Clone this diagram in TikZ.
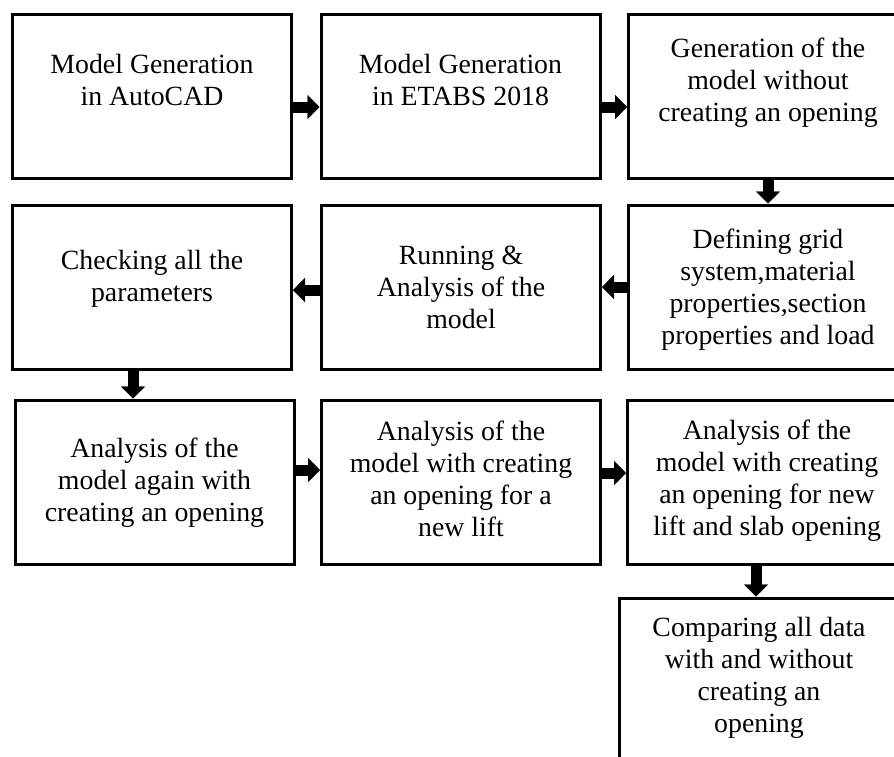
\documentclass[tikz,border=0pt]{standalone}
\usepackage{fontspec}
\setmainfont{Liberation Serif}
\usetikzlibrary{arrows.meta}

\begin{document}
\begin{tikzpicture}[x=1pt,y=-1pt,
      box/.style={draw,line width=3pt,minimum width=279pt,minimum height=164pt,inner sep=0pt},
      txt/.style={anchor=north,align=center,inner sep=0pt,font=\fontsize{27.8}{32}\selectfont},
      blk/.style={line width=11pt,-{Triangle[length=12pt,width=24pt,line width=0.4pt]}}]

   \clip (0,0) rectangle (894,756);
   \useasboundingbox (0,0) rectangle (894,756);

   % Boxes
      \node[box]  (b1)  at (152,96.5)    {};
      \node[box]  (b2)  at (460.5,96.5)  {};
      \node[box]  (b3)  at (768,96.5)    {};
      \node[box]  (b4)  at (152,287)     {};
      \node[box]  (b5)  at (461,287)     {};
      \node[box]  (b6)  at (768,287)     {};
      \node[box]  (b7)  at (154.5,482)   {};
      \node[box]  (b8)  at (461,482)     {};
      \node[box]  (b9)  at (767,482)     {};
      \node[box,minimum height=180pt]  (b10) at (759,688) {};

   % Texts
      \node[txt]  (t1)  at (152,54)   {Model Generation\\in AutoCAD};
      \node[txt]  (t2)  at (460.5,54) {Model Generation\\in ETABS 2018};
      \node[txt]  (t3)  at (768,38)   {Generation of the\\model without\\creating an opening};
      \node[txt]  (t4)  at (152,250)  {Checking all the\\parameters};
      \node[txt]  (t5)  at (461,246)  {Running \&\\Analysis of the\\model};
      \node[txt]  (t6)  at (768,229)  {Defining grid\\system,material\\properties,section\\properties and load};
      \node[txt]  (t7)  at (154.5,438) {Analysis of the\\model again with\\creating an opening};
      \node[txt]  (t8)  at (461,421)  {Analysis of the\\model with creating\\an opening for a\\new lift};
      \node[txt]  (t9)  at (767,420)  {Analysis of the\\model with creating\\an opening for new\\lift and slab opening};
      \node[txt]  (t10) at (759,617)  {Comparing all data\\with and without\\creating an\\opening};

   % Arrows
      \draw[blk] ([yshift=-10.5pt]b1.east) -- ([yshift=-10.5pt]b2.west);
      \draw[blk] ([yshift=-10.5pt]b2.east) -- ([yshift=-10.5pt]b3.west);
      \draw[blk] (b3.south) -- (b6.north);
      \draw[blk] (b6.west) -- (b5.east);
      \draw[blk] ([yshift=-3pt]b5.west) -- ([yshift=-3pt]b4.east);
      \draw[blk] ([xshift=-19pt]b4.south) -- ([xshift=-19pt]b4.south |- b7.north);
      \draw[blk] ([yshift=12pt]b7.east) -- ([yshift=12pt]b8.west);
      \draw[blk] ([yshift=9pt]b8.east) -- ([yshift=9pt]b9.west);
      \draw[blk] ([xshift=-11pt]b9.south) -- ([xshift=-11pt]b9.south |- b10.north);
\end{tikzpicture}
\end{document}
